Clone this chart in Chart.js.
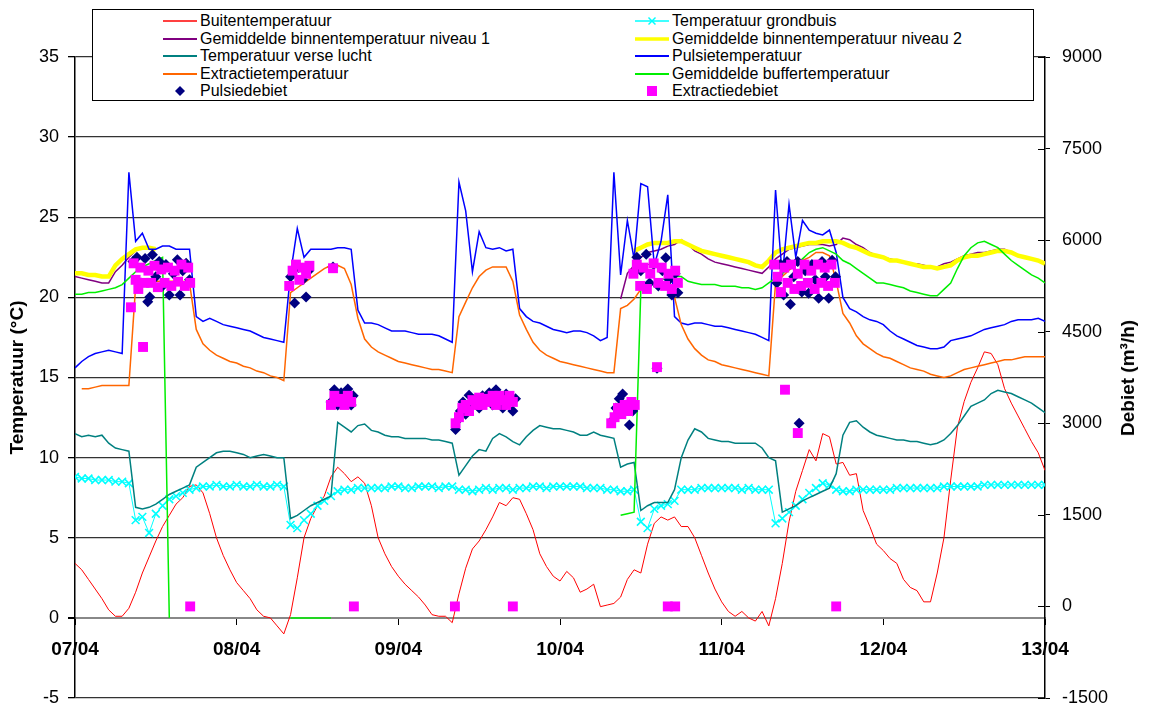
<!DOCTYPE html>
<html>
<head>
<meta charset="utf-8">
<script src="https://cdn.jsdelivr.net/npm/chart.js@4.4.1/dist/chart.umd.min.js"></script>
<style>
html,body{margin:0;padding:0;background:#fff;}
#wrap{position:relative;width:1150px;height:711px;overflow:hidden;font-family:'Liberation Sans',Arial,sans-serif;}
#c{position:absolute;left:0;top:0;}
#legend{position:absolute;left:92px;top:9px;width:940px;height:90px;border:1px solid #000;background:#fff;}
.li{position:absolute;height:18px;line-height:18px;font-size:16px;color:#000;white-space:nowrap;}
.li svg{position:absolute;left:0;top:2px;}
.li span{position:absolute;left:37px;top:0;}
#y2title{position:absolute;left:1128px;top:378px;transform:translate(-50%,-50%) rotate(-90deg);font-weight:bold;font-size:19px;white-space:nowrap;color:#000;}
</style>
</head>
<body>
<div id="wrap">
<canvas id="c" width="1150" height="711"></canvas>
<div id="legend"></div>
<div id="y2title">Debiet (m³/h)</div>
</div>
<script>
const _ = null;
// x categories: hours since 07/04 00:00, day tick labels
const dayLabels = ['07/04','08/04','09/04','10/04','11/04','12/04','13/04'];
const hours = Array.from({length:145},(v,i)=>i);

const buitentemp = [
 3.4,3.0,2.4,1.8,1.2,0.5,0.1,0.1,0.6,1.6,2.8,3.8,
 4.8,5.7,6.4,7.1,7.5,8.2,8.3,7.8,6.5,5.0,3.9,3.0,
 2.2,1.7,1.2,0.5,0.1,0.0,-0.5,-1.0,0.2,2.5,5.0,6.2,
 7.0,7.6,8.8,9.4,9.0,8.5,8.8,8.4,7.0,5.0,4.0,3.2,
 2.6,2.1,1.7,1.3,0.8,0.2,0.1,0.1,-0.3,1.5,3.1,4.3,
 4.8,5.5,6.3,7.2,7.0,7.5,7.4,6.5,5.5,4.0,3.2,2.6,
 2.3,2.9,2.5,1.6,1.8,2.1,0.7,0.8,0.9,1.3,2.4,3.0,
 2.8,4.6,5.9,6.3,6.1,6.3,5.7,5.7,5.0,3.9,2.8,1.8,
 1.0,0.4,0.1,0.4,0.0,-0.2,0.4,-0.5,1.2,3.4,6.0,7.9,
 9.2,10.5,9.8,11.5,11.3,9.6,9.7,8.9,9.0,6.7,5.7,4.6,
 4.2,3.7,3.4,2.4,1.9,1.7,1.0,1.0,2.8,5.0,8.6,11.9,
 13.5,14.7,15.6,16.6,16.5,15.8,14.3,13.4,12.6,11.8,11.0,10.3,
 9.2];

const grondbuis = [
 8.8,8.7,8.7,8.6,8.6,8.6,8.5,8.5,8.4,6.1,6.3,5.3,
 6.5,7.0,7.4,7.6,7.8,8.0,8.1,8.2,8.2,8.3,8.2,8.2,
 8.3,8.2,8.2,8.3,8.2,8.2,8.3,8.2,5.8,5.6,6.1,6.5,
 7.0,7.3,7.6,7.9,8.0,8.0,8.1,8.1,8.1,8.1,8.1,8.2,
 8.2,8.1,8.1,8.2,8.2,8.2,8.1,8.2,8.2,8.0,8.0,7.9,
 8.0,8.1,8.0,8.1,8.1,8.0,8.1,8.1,8.2,8.2,8.1,8.2,
 8.2,8.2,8.2,8.2,8.1,8.1,8.1,8.0,8.0,7.9,7.9,8.0,
 6.0,5.6,6.8,7.0,7.1,7.3,8.0,8.0,8.0,8.1,8.1,8.1,
 8.1,8.1,8.1,8.0,8.1,8.0,8.0,8.0,5.9,6.2,6.6,7.0,
 7.4,7.8,8.1,8.4,8.3,8.0,7.9,7.9,8.0,8.0,8.0,8.0,
 8.0,8.0,8.1,8.1,8.1,8.1,8.1,8.1,8.1,8.2,8.2,8.2,
 8.2,8.2,8.2,8.3,8.3,8.3,8.3,8.3,8.3,8.3,8.3,8.3,
 8.3];

const binnenNiveau1 = [
 21.3,21.2,21.1,21.0,20.9,20.9,21.6,22.0,22.5,22.9,23.1,23.1,
 23.0,_,_,_,_,_,_,_,_,_,_,_,
 _,_,_,_,_,_,_,_,_,_,_,_,
 _,_,_,_,_,_,_,_,_,_,_,_,
 _,_,_,_,_,_,_,_,_,_,_,_,
 _,_,_,_,_,_,_,_,_,_,_,_,
 _,_,_,_,_,_,_,_,_,19.9,21.5,22.0,
 22.5,22.8,22.9,23.0,23.2,23.3,23.6,23.3,22.9,22.7,22.4,22.2,
 22.1,22.0,21.9,21.8,21.7,21.6,21.5,21.9,22.4,22.7,23.0,23.1,
 23.2,23.3,23.3,23.3,23.2,23.3,23.7,23.6,23.3,23.1,22.8,22.6,
 22.5,22.4,22.3,22.2,22.1,22.1,22.0,21.9,21.9,22.1,22.2,22.4,
 22.6,22.7,22.8,22.8,22.9,23.0,23.0,22.8,22.6,22.5,22.4,22.3,
 22.2];

const binnenNiveau2 = [
 21.5,21.5,21.4,21.4,21.3,21.3,22.0,22.4,22.7,23.0,23.1,23.1,
 23.0,_,_,_,_,_,_,_,_,_,_,_,
 _,_,_,_,_,_,_,_,_,_,_,_,
 _,_,_,_,_,_,_,_,_,_,_,_,
 _,_,_,_,_,_,_,_,_,_,_,_,
 _,_,_,_,_,_,_,_,_,_,_,_,
 _,_,_,_,_,_,_,_,_,_,_,22.9,
 23.1,23.3,23.4,23.4,23.4,23.5,23.5,23.3,23.1,22.9,22.8,22.7,
 22.6,22.5,22.4,22.3,22.2,22.0,21.9,22.3,22.8,23.0,23.1,23.2,
 23.3,23.4,23.4,23.5,23.5,23.5,23.4,23.2,23.1,22.9,22.7,22.6,
 22.5,22.3,22.3,22.2,22.1,22.0,21.9,21.9,21.8,21.9,22.0,22.3,
 22.5,22.6,22.6,22.7,22.8,22.9,22.9,22.8,22.6,22.5,22.4,22.3,
 22.1];

const verseLucht = [
 11.5,11.3,11.4,11.3,11.4,10.9,10.6,10.5,10.4,6.9,6.8,6.9,
 7.1,7.4,7.7,7.9,8.1,8.3,9.4,9.7,10.0,10.3,10.4,10.4,
 10.3,10.2,10.0,10.1,10.2,10.1,10.0,10.0,6.2,6.4,6.7,7.0,
 7.2,7.4,7.6,12.2,11.9,11.6,12.0,12.1,11.7,11.6,11.4,11.3,
 11.3,11.2,11.2,11.2,11.2,11.1,11.1,11.0,10.9,8.9,9.5,10.1,
 10.5,10.4,11.2,11.5,11.3,11.0,10.8,11.3,11.7,12.0,11.9,11.8,
 11.8,11.7,11.6,11.4,11.4,11.6,11.4,11.3,11.2,9.4,9.6,9.7,
 6.7,7.0,7.2,7.2,7.2,8.0,10.0,11.1,11.8,11.6,11.2,11.1,
 11.0,11.0,10.9,10.9,10.9,10.9,10.6,10.0,9.8,6.6,6.8,7.0,
 7.3,7.5,7.7,7.9,8.1,9.0,11.4,12.2,12.3,11.9,11.6,11.4,
 11.3,11.2,11.1,11.1,11.0,11.0,10.9,10.8,10.9,11.1,11.5,12.0,
 12.6,13.2,13.4,13.6,14.0,14.2,14.1,14.0,13.8,13.6,13.4,13.1,
 12.8];

const pulsieTemp = [
 15.6,16.0,16.3,16.5,16.6,16.7,16.6,16.5,27.8,23.5,24.0,23.0,
 23.0,23.2,23.2,23.0,23.0,23.0,18.8,18.5,18.7,18.5,18.3,18.2,
 18.1,18.0,17.9,17.7,17.5,17.4,17.3,17.2,21.5,24.3,22.5,23.0,
 23.0,23.0,23.0,23.1,23.1,23.0,19.2,18.4,18.4,18.3,18.1,17.9,
 17.9,17.9,17.8,17.7,17.7,17.7,17.6,17.4,17.2,27.2,25.4,21.6,
 24.1,23.1,23.0,23.1,22.9,23.0,19.3,18.8,18.5,18.4,18.2,18.0,
 17.9,17.8,17.9,17.9,17.8,17.6,17.3,17.5,27.8,21.4,24.8,22.4,
 27.1,26.9,22.0,23.5,26.4,18.8,18.4,18.3,18.4,18.4,18.3,18.2,
 18.2,18.1,18.0,17.9,17.8,17.7,17.5,17.3,26.7,21.3,25.8,22.5,
 24.8,24.2,24.0,23.9,24.2,22.8,20.0,19.3,19.1,18.8,18.6,18.5,
 18.3,17.9,17.6,17.4,17.2,17.0,16.9,16.8,16.8,16.9,17.3,17.4,
 17.5,17.6,17.8,18.0,18.1,18.2,18.3,18.5,18.6,18.6,18.6,18.7,
 18.5];

const extractieTemp = [
 _,14.3,14.3,14.4,14.5,14.5,14.5,14.5,14.5,20.7,20.8,20.9,
 21.0,21.0,21.0,21.0,21.0,20.9,18.0,17.1,16.7,16.4,16.2,16.0,
 15.9,15.7,15.6,15.4,15.3,15.1,15.0,14.8,20.3,20.6,20.9,21.2,
 21.5,21.8,22.0,22.0,21.8,20.8,18.7,17.4,16.9,16.6,16.4,16.2,
 16.0,15.9,15.8,15.7,15.6,15.5,15.5,15.4,15.3,18.8,19.7,20.6,
 21.3,21.7,21.9,21.9,21.9,21.0,18.9,18.0,17.2,16.7,16.4,16.2,
 16.0,15.9,15.8,15.7,15.6,15.5,15.4,15.3,15.3,19.3,19.5,19.9,
 20.5,20.7,20.9,21.0,20.8,20.0,18.3,17.4,16.8,16.4,16.1,16.0,
 15.8,15.7,15.6,15.5,15.4,15.3,15.2,15.1,20.9,21.3,21.7,22.0,
 22.3,22.5,22.8,22.8,22.6,21.0,19.0,18.4,17.6,17.1,16.8,16.5,
 16.3,16.2,16.0,15.8,15.6,15.5,15.4,15.2,15.1,15.0,15.1,15.3,
 15.5,15.6,15.7,15.8,15.9,16.0,16.1,16.1,16.2,16.3,16.3,16.3,
 16.3];

const bufferTemp = [
 20.2,20.2,20.3,20.3,20.4,20.5,20.6,20.8,21.2,21.6,21.9,22.1,
 22.3,22.5,0,_,_,_,_,_,_,_,_,_,
 _,_,_,_,_,_,_,_,0,0,0,0,
 0,0,0,_,_,_,_,_,_,_,_,_,
 _,_,_,_,_,_,_,_,_,_,_,_,
 _,_,_,_,_,_,_,_,_,_,_,_,
 _,_,_,_,_,_,_,_,_,6.4,6.5,6.6,
 20.5,20.7,20.9,21.1,21.2,21.3,21.3,21.0,20.9,20.8,20.8,20.8,
 20.7,20.7,20.7,20.6,20.6,20.5,20.6,20.9,21.2,21.5,21.8,22.0,
 22.4,22.8,23.0,23.1,22.9,22.7,22.3,22.1,21.8,21.5,21.2,20.9,
 20.9,20.8,20.7,20.6,20.4,20.3,20.2,20.1,20.1,20.5,20.9,21.8,
 22.6,23.1,23.4,23.5,23.3,23.1,22.7,22.3,22.0,21.7,21.4,21.2,
 20.9];

// Debiet (m3/h) point series: hour + value
const pulsieHours = [8.6,9.2,9.8,10.4,10.8,11.1,11.5,12.0,12.5,13.0,13.5,14.0,14.6,15.2,15.6,16.0,16.5,17.0,
 32.0,32.6,33.2,33.8,34.3,34.7,38.3,
 38.0,38.5,39.0,39.5,40.0,40.5,41.0,41.3,
 56.5,56.8,57.2,57.6,58.0,58.5,59.0,59.5,60.0,60.5,61.0,61.5,62.0,62.5,63.0,63.5,64.0,64.5,65.0,65.4,
 79.8,80.3,80.8,81.3,81.8,82.3,82.8,
 83.4,84.0,84.8,85.3,85.9,86.4,86.6,87.2,87.7,88.2,88.6,89.1,89.5,
 104.2,104.7,105.2,105.7,106.2,106.7,107.3,107.5,107.9,108.4,108.9,109.4,109.9,110.4,110.9,111.4,111.9,112.4,112.9];
const pulsieFlow = [5650,5720,5300,5700,4990,5070,5760,5400,5650,5250,5600,5100,5450,5680,5100,5500,5620,5350,
 5400,4970,5550,5350,5070,5500,5560,
 3350,3550,3300,3500,3400,3560,3300,3450,
 2900,3050,3200,3350,3150,3460,3300,3400,3250,3450,3350,3500,3300,3550,3400,3250,3480,3350,3200,3400,
 3050,3250,3400,3480,3300,2970,3200,
 5720,5500,5770,5300,5600,3900,5250,5500,5710,5350,5100,5450,5140,
 5300,5600,5100,5650,4950,5400,5650,3000,5150,5500,5130,5600,5350,5050,5650,5400,5050,5670,5400];

const extractieHours = [8.3,8.7,9.0,9.4,9.7,10.1,10.3,10.9,11.3,11.8,12.3,12.8,13.3,13.8,14.3,14.8,15.3,15.8,16.3,16.8,17.1,17.1,
 31.8,32.3,32.8,33.3,33.8,34.3,34.8,38.3,
 38.0,38.5,39.0,39.5,40.0,40.5,41.0,41.4,
 56.4,56.5,57.0,57.5,58.0,58.5,59.0,59.5,60.0,60.5,61.0,61.5,62.0,62.5,63.0,63.5,64.0,64.5,65.0,65.0,
 79.6,80.1,80.6,81.1,81.6,82.1,82.6,83.1,
 82.9,83.4,83.9,84.4,84.9,85.4,85.9,86.4,86.6,87.1,87.6,88.0,88.1,88.6,89.1,89.1,89.5,
 103.8,104.3,104.8,105.3,105.4,105.8,106.3,106.8,107.3,107.3,107.8,108.3,108.8,109.3,109.8,110.3,110.8,111.3,111.8,112.3,112.8,113.0];
const extractieFlow = [4900,5620,5350,5200,5550,4250,5300,5500,5300,5580,5230,5520,5300,5550,5250,5500,5320,5600,5250,5550,5300,0,
 5250,5500,5600,5350,5550,5450,5580,5540,
 3300,3450,3350,3400,3300,3450,3350,0,
 0,3000,3100,3250,3300,3200,3380,3300,3420,3300,3400,3350,3450,3300,3450,3380,3300,3450,3350,0,
 3000,3100,3250,3150,3300,3200,3350,3300,
 5450,5600,5250,5550,5200,5450,5620,3920,5300,5550,5250,0,5450,5200,0,5500,5300,
 5600,5400,5150,5550,3550,5300,5600,5200,5450,2840,5250,5600,5300,5500,5200,5600,5300,5550,5250,5600,5300,0];

const series = (arr) => hours.map((h,i)=>({x:h, y:(arr[i]===undefined?null:arr[i])}));
const points = (xs, ys) => xs.map((h,i)=>({x:h, y:ys[i]}));

function lineDs(label, arr, color, width, extra){
  return Object.assign({label, data: series(arr), borderColor: color, backgroundColor: color,
    borderWidth: width, pointRadius: 0, pointHoverRadius: 0, tension: 0, spanGaps: false, yAxisID: 'y', fill:false}, extra||{});
}

const datasets = [
  lineDs('Buitentemperatuur', buitentemp, '#FF0000', 1),
  lineDs('Temperatuur grondbuis', grondbuis, '#00FFFF', 1, {pointStyle:'crossRot', pointRadius:5.5, pointBorderColor:'#00FFFF', pointBorderWidth:1.6}),
  lineDs('Gemiddelde binnentemperatuur niveau 1', binnenNiveau1, '#800080', 1.5),
  lineDs('Gemiddelde binnentemperatuur niveau 2', binnenNiveau2, '#FFFF00', 4.5),
  lineDs('Temperatuur verse lucht', verseLucht, '#008080', 1.5),
  lineDs('Pulsietemperatuur', pulsieTemp, '#0000FF', 1.5),
  lineDs('Extractietemperatuur', extractieTemp, '#FF6600', 1.5),
  lineDs('Gemiddelde buffertemperatuur', bufferTemp, '#00EE00', 1.5),
  {label:'Pulsiedebiet', data: points(pulsieHours, pulsieFlow), showLine:false, yAxisID:'y2',
   pointStyle:'rectRot', pointRadius:5.5, pointBackgroundColor:'#000080', pointBorderColor:'#000080', pointBorderWidth:0, borderColor:'#000080', backgroundColor:'#000080'},
  {label:'Extractiedebiet', data: points(extractieHours, extractieFlow), showLine:false, yAxisID:'y2',
   pointStyle:'rect', pointRadius:7, pointBackgroundColor:'#FF00FF', pointBorderColor:'#FF00FF', pointBorderWidth:0, borderColor:'#FF00FF', backgroundColor:'#FF00FF'}
];
datasets.forEach((d,i)=>{ d.order = datasets.length - 1 - i; });

const innerTicks = {
  id:'innerTicks',
  afterDraw(chart){
    const s = chart.scales.y2, ctx = chart.ctx;
    ctx.save(); ctx.strokeStyle='#000'; ctx.lineWidth=1;
    s.ticks.forEach(t=>{
      const y = Math.round(s.getPixelForValue(t.value))+0.5;
      ctx.beginPath(); ctx.moveTo(s.left-7, y); ctx.lineTo(s.left, y); ctx.stroke();
    });
    ctx.restore();
  }
};

Chart.defaults.font.family = "'Liberation Sans', Arial, sans-serif";
Chart.defaults.color = '#000';

const chart = new Chart(document.getElementById('c'), {
  type: 'line',
  data: { datasets },
  options: {
    responsive:false, animation:false, devicePixelRatio:1,
    layout:{ padding:{ top:57, bottom:13, left:0, right:0 } },
    plugins:{ legend:{display:false}, tooltip:{enabled:false} },
    scales:{
      x:{ type:'linear', min:0, max:144, position:{y:0},
          afterFit(s){ s.height = 0; s.paddingTop = 0; s.paddingBottom = 0; },
          ticks:{ stepSize:24, autoSkip:false, maxRotation:0, padding:14, color:'#000',
                  font:{size:19, weight:'bold'}, callback:(v)=> dayLabels[Math.round(v/24)] },
          grid:{ drawOnChartArea:false, drawTicks:true, tickLength:6, color:'#000' },
          border:{ display:true, color:'#888', width:2 } },
      y:{ position:'left', min:-5, max:35,
          afterFit(s){ s.width = 75; s.paddingTop = 0; s.paddingBottom = 0; },
          ticks:{ stepSize:5, padding:9, color:'#000', font:{size:18} },
          grid:{ color:(c)=> (c.tick && c.tick.value===0) ? '#888' : '#333',
                 lineWidth:(c)=> (c.tick && c.tick.value===0) ? 2 : 1.3,
                 tickLength:7, tickColor:'#000' },
          border:{ color:'#000', width:1.5 },
          title:{ display:true, text:'Temperatuur (°C)', color:'#000', font:{size:19, weight:'bold'}, padding:{top:6,bottom:0} } },
      y2:{ position:'right', min:-1500, max:9000,
          afterFit(s){ s.width = 105; s.paddingTop = 0; s.paddingBottom = 0; },
          ticks:{ stepSize:1500, padding:12, color:'#000', font:{size:18}, callback:(v)=> String(v) },
          grid:{ drawOnChartArea:false, tickLength:5, color:'#000' },
          border:{ color:'#000', width:1.5 } }
    }
  },
  plugins:[innerTicks]
});

// HTML legend built from the datasets (2 columns, row-wise like the original)
const legend = document.getElementById('legend');
datasets.forEach((d,i)=>{
  const row = Math.floor(i/2), col = i%2;
  const el = document.createElement('div');
  el.className = 'li';
  el.style.left = (col===0 ? 70 : 542) + 'px';
  el.style.top = (2 + row*17.5) + 'px';
  let svg;
  if (d.pointStyle === 'rectRot') {
    svg = `<svg width="34" height="14"><polygon points="17,2 22,7 17,12 12,7" fill="${d.pointBackgroundColor}"/></svg>`;
  } else if (d.pointStyle === 'rect') {
    svg = `<svg width="34" height="14"><rect x="12" y="2" width="10" height="10" fill="${d.pointBackgroundColor}"/></svg>`;
  } else if (d.pointStyle === 'crossRot') {
    svg = `<svg width="34" height="14"><line x1="0" y1="7" x2="34" y2="7" stroke="${d.borderColor}" stroke-width="1.5"/><line x1="13.5" y1="3.5" x2="20.5" y2="10.5" stroke="${d.borderColor}" stroke-width="1.5"/><line x1="20.5" y1="3.5" x2="13.5" y2="10.5" stroke="${d.borderColor}" stroke-width="1.5"/></svg>`;
  } else {
    svg = `<svg width="34" height="14"><line x1="0" y1="7" x2="34" y2="7" stroke="${d.borderColor}" stroke-width="${Math.min(d.borderWidth,3)+0.5}"/></svg>`;
  }
  el.innerHTML = svg + `<span>${d.label}</span>`;
  legend.appendChild(el);
});
</script>
</body>
</html>
